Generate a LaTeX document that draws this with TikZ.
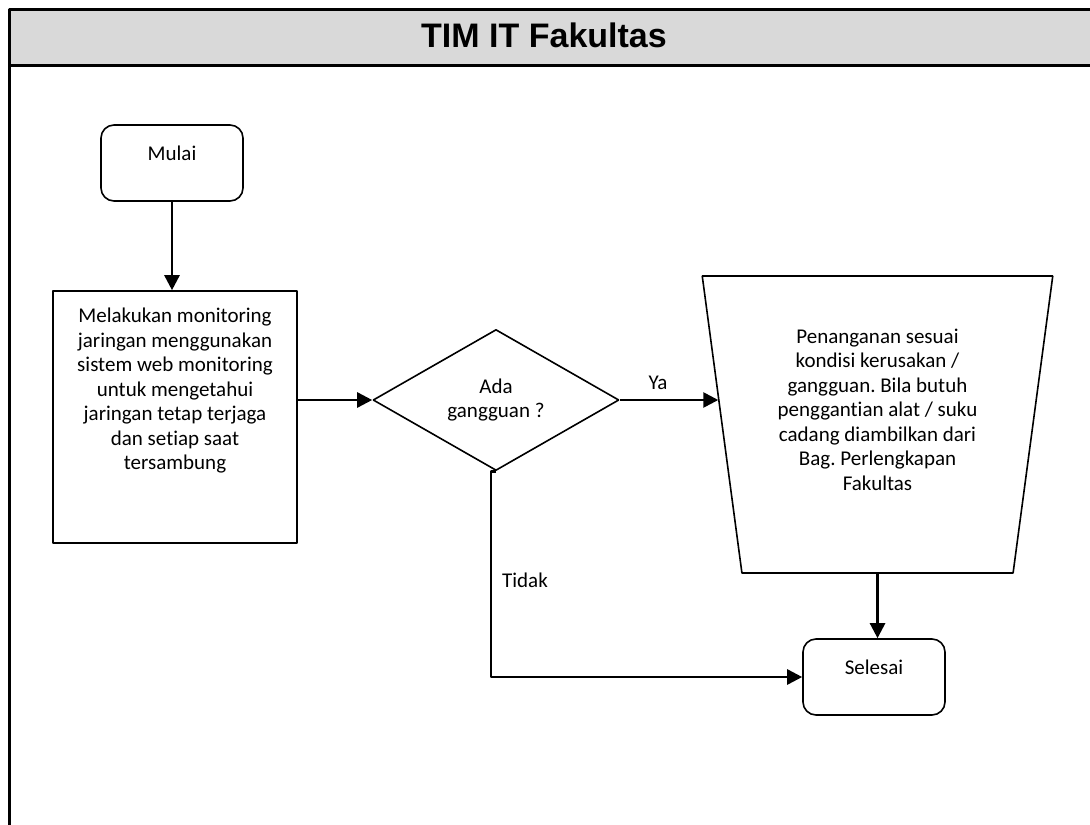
\documentclass[tikz,border=0pt]{standalone}
\usepackage{fontspec}
\setmainfont{Carlito}[Ligatures=NoCommon]
\newfontfamily\headfont{Liberation Sans}
\usetikzlibrary{shapes.geometric,arrows.meta,calc}
\definecolor{headgray}{RGB}{217,217,217}
\frenchspacing
\begin{document}
\begin{tikzpicture}[>={Triangle[length=15bp,width=15bp]},line join=bevel,
  every node/.style={font=\fontsize{21bp}{24.5bp}\selectfont},
  term/.style={draw,line width=1.6bp,rounded corners=13bp,minimum width=142bp,inner sep=0pt,text height=35bp,text depth=41bp},
  proc/.style={draw,line width=1.6bp,inner sep=0pt},
  dec/.style={draw,diamond,line width=1.6bp,aspect=1.745,inner sep=0pt,minimum width=246bp,minimum height=141bp,align=center},
  work/.style={draw,trapezium,trapezium stretches=true,shape border rotate=180,trapezium left angle=82.7,trapezium right angle=82.7,minimum width=351bp,minimum height=297bp,line width=1.6bp,inner sep=0pt},
  arr/.style={->,line width=2.6bp},
  lbl/.style={inner sep=0pt}]
%%
\useasboundingbox (0bp,0bp) rectangle (1090bp,-825bp);
\fill [headgray] (9bp,-9bp) rectangle (1090bp,-65bp);
\node (title) at (544bp,-35bp) [lbl] {\headfont\bfseries\fontsize{34bp}{40bp}\selectfont TIM IT Fakultas};
\draw [line width=3bp] (1090bp,-9bp) -- (9bp,-9bp) -- (9bp,-825bp);
\draw [line width=3bp] (9bp,-65bp) -- (1090bp,-65bp);
%
\node (start) at (172bp,-163bp) [term] {Mulai};
  \node (proc) at (175bp,-417bp) [proc] {\parbox[c][252bp][t]{244bp}{\centering\vspace*{17bp}Melakukan monitoring\\ jaringan menggunakan\\ sistem web monitoring\\ untuk mengetahui\\ jaringan tetap terjaga\\ dan setiap saat\\ tersambung}};
  \node (dec) at (496bp,-400bp) [dec] {Ada\\ gangguan ?};
  \node (trap) at (877.5bp,-424.5bp) [work] {\parbox[c][297bp][t]{260bp}{\centering\vspace*{53bp}Penanganan sesuai\\ kondisi kerusakan /\\ gangguan. Bila butuh\\ penggantian alat / suku\\ cadang diambilkan dari\\ Bag. Perlengkapan\\ Fakultas}};
  \node (end) at (874bp,-677bp) [term] {Selesai};
  \node (ya) at (658bp,-383bp) [lbl] {Ya};
  \node (tidak) at (525bp,-580bp) [lbl] {Tidak};
  \draw [arr] (start.south) -- (start.south |- proc.north);
  \draw [arr] (proc.east |- dec.west) -- (dec.west);
  \draw [arr] (dec.east) -- ($(dec.east -| trap.west)+(-3bp,0)$);
  \draw [arr] (trap.south) -- (trap.south |- end.north);
  \draw [arr] (dec.south) -- ++(-5bp,0) |- (end.west);
%
\end{tikzpicture}
\end{document}
